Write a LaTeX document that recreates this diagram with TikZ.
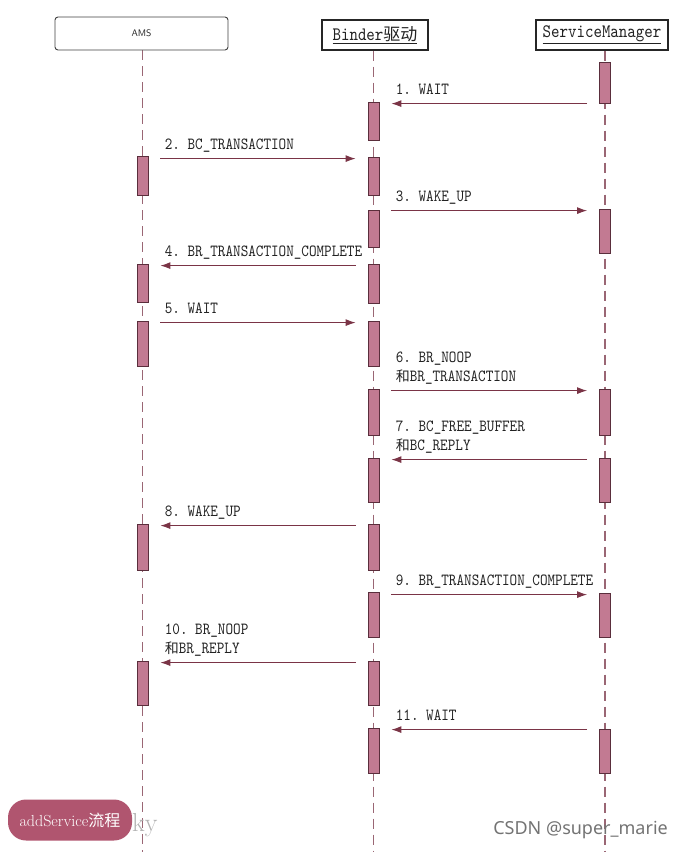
\documentclass[tikz,border=0pt]{standalone}
\usepackage{fontspec}
\newfontfamily\cjk{Noto Sans CJK SC}
\newfontfamily\wmfont{Noto Sans}
\newfontfamily\narrowtt{lmmono10-regular}[Extension=.otf,FakeStretch=0.85]
\usetikzlibrary{positioning,arrows.meta,backgrounds}
\definecolor{seqbar}{HTML}{C27A92}
\definecolor{seqedge}{HTML}{5A2E3C}
\definecolor{seqarrow}{HTML}{7A3446}
\definecolor{seqlife}{HTML}{9A6674}
\definecolor{seqbadge}{HTML}{B0556F}
\definecolor{seqink}{HTML}{222222}
\tikzset{
  head/.style  ={draw=black!85,line width=1.1pt,fill=white,inner sep=0pt,text=seqink,font=\narrowtt\fontsize{19}{21}\selectfont},
  actor/.style ={head,rounded corners=3pt,draw=black!75,line width=0.9pt,font=\sffamily\fontsize{9.5}{11}\selectfont},
  life/.style  ={draw=seqlife,line width=1.4pt,dash pattern=on 10pt off 6pt},
  actbar/.style={draw=seqedge,fill=seqbar,line width=0.8pt,minimum width=11pt,inner sep=0pt},
  msg/.style   ={-{Latex[length=10pt,width=7pt]},draw=seqarrow,line width=1pt,shorten <=12pt,shorten >=12pt},
  lbl/.style   ={font=\narrowtt\fontsize{17}{19}\selectfont,text=seqink,align=left,inner sep=0pt,text depth=0pt,anchor=south west,xshift=16pt,yshift=9pt},
  badge/.style ={fill=seqbadge,text=white,rounded corners=18pt,minimum width=124pt,minimum height=41pt,inner sep=0pt,font=\rmfamily\fontsize{16}{18}\selectfont},
}

\begin{document}
\begin{tikzpicture}[x=1pt,y=-1pt]
  \useasboundingbox (0,0) rectangle (684,852);
  \coordinate (foot) at (0,852);

  % heads
  \node[actor, minimum width=173pt, minimum height=33pt] (ams) at (141.5,33.5) {AMS};
  \node[head, minimum width=106pt, minimum height=30pt] (binder) at (375,35) {\underline{Binder{\cjk\fontsize{17}{19}\selectfont 驱动}}};
  \node[head, minimum width=132pt, minimum height=30pt] (sm) at (602,35) {\underline{ServiceManager}};

  % activation bars
  \foreach \n/\x/\t/\b in {sm1/605/62/103, bd1/373.5/102/140,
      am2/142.5/156/195, bd2/373.5/157/195, bd3/373.5/210/247, sm3/605/209/253,
      am4/142.5/264/302, bd4/373.5/264/303, am5/142.5/321/366, bd5/373.5/321/366,
      bd6/373.5/389/435, sm6/605/389/435, bd7/373.5/458/502, sm7/605/458/502,
      am8/142.5/524/570, bd8/373.5/524/570, bd9/373.5/592/637, sm9/605/593/637,
      am10/142.5/661/705, bd10/373.5/661/705, bd11/373.5/728/773, sm11/605/729/773}
    \node[actbar, minimum height={(\b-\t)*1pt}] (\n) at (\x,{(\t+\b)/2}) {};

  \begin{scope}[on background layer]
    \draw[life] (am2 |- ams.south) -- (am2 |- foot);
    \draw[life] (bd1 |- binder.south) -- (bd1 |- foot);
    \draw[life] (sm1 |- sm.south) -- (sm1 |- foot);
  \end{scope}

  % messages
  \draw[msg] ([yshift=-2pt]sm1.west |- bd1.north) -- node[lbl, at end] (l1) {1.\ WAIT} ([yshift=-2pt]bd1.north east);
  \draw[msg] ([yshift=-2pt]am2.east |- bd2.north) -- node[lbl, at start] (l2) {2.\ BC\_TRANSACTION} ([yshift=-2pt]bd2.north west);
  \draw[msg] ([yshift=-2pt]bd3.east |- sm3.north) -- node[lbl, at start] (l3) {3.\ WAKE\_UP} ([yshift=-2pt]sm3.north west);
  \draw[msg] ([yshift=-2pt]bd4.west |- am4.north) -- node[lbl, at end] (l4) {4.\ BR\_TRANSACTION\_COMPLETE} ([yshift=-2pt]am4.north east);
  \draw[msg] ([yshift=-2pt]am5.east |- bd5.north) -- node[lbl, at start] (l5) {5.\ WAIT} ([yshift=-2pt]bd5.north west);
  \draw[msg] ([yshift=-2pt]bd6.east |- sm6.north) -- node[lbl, at start] (l6) {6.\ BR\_NOOP\\{\cjk\fontsize{14}{19}\selectfont 和}BR\_TRANSACTION} ([yshift=-2pt]sm6.north west);
  \draw[msg] ([yshift=-2pt]sm7.west |- bd7.north) -- node[lbl, at end] (l7) {7.\ BC\_FREE\_BUFFER\\{\cjk\fontsize{14}{19}\selectfont 和}BC\_REPLY} ([yshift=-2pt]bd7.north east);
  \draw[msg] ([yshift=-2pt]bd8.west |- am8.north) -- node[lbl, at end] (l8) {8.\ WAKE\_UP} ([yshift=-2pt]am8.north east);
  \draw[msg] ([yshift=-2pt]bd9.east |- sm9.north) -- node[lbl, at start] (l9) {9.\ BR\_TRANSACTION\_COMPLETE} ([yshift=-2pt]sm9.north west);
  \draw[msg] ([yshift=-2pt]bd10.west |- am10.north) -- node[lbl, at end] (l10) {10.\ BR\_NOOP\\{\cjk\fontsize{14}{19}\selectfont 和}BR\_REPLY} ([yshift=-2pt]am10.north east);
  \draw[msg] ([yshift=-2pt]sm11.west |- bd11.north) -- node[lbl, at end] (l11) {11.\ WAIT} ([yshift=-2pt]bd11.north east);

  % footer
  \node[anchor=west, text=black!30, font=\rmfamily\fontsize{26}{28}\selectfont, inner sep=0pt] (wm) at (132,825) {ky};
  \node[badge] (tag) at (70,820) {addService{\cjk 流程}};
  \node[anchor=east, text=black!55, font=\wmfont\fontsize{18}{20}\selectfont, inner sep=0pt] (csdn) at (668,830) {CSDN @super\_marie};
\end{tikzpicture}
\end{document}
